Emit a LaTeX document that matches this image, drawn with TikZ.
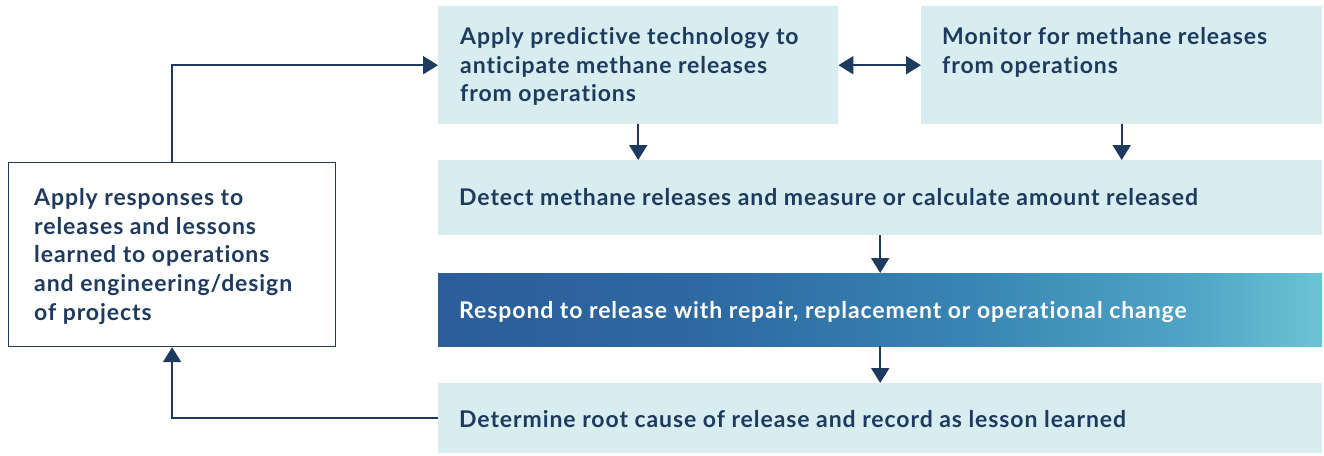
\documentclass[tikz,border=0pt]{standalone}
\usepackage{fontspec}
\usetikzlibrary{arrows.meta}
\newfontfamily\mfont[LetterSpace=4.0,Ligatures=NoCommon]{Lato}
\definecolor{navy}{HTML}{1F3A5F}
\definecolor{boxfill}{HTML}{D7EDF0}
\definecolor{gradA}{HTML}{2B5D99}
\definecolor{gradB}{HTML}{2E69A2}
\definecolor{gradC}{HTML}{3885B3}
\definecolor{gradD}{HTML}{50A4C5}
\definecolor{gradE}{HTML}{6BC4D4}
\pgfdeclarehorizontalshading{respshade}{100bp}{color(0bp)=(gradA); color(25bp)=(gradA); color(40bp)=(gradB); color(55bp)=(gradC); color(67.5bp)=(gradD); color(75bp)=(gradE); color(100bp)=(gradE)}
\begin{document}
\begin{tikzpicture}[x=1pt,y=-1pt,
  font=\mfont\bfseries\fontsize{23}{28.8}\selectfont,
  lbox/.style={fill=boxfill, draw=none, inner sep=0pt, anchor=north west},
  txt/.style={text=navy, inner sep=0pt, align=left},
  conn/.style={draw=navy, line width=2pt, -{Triangle[width=18pt,length=15pt]}},
  conn2/.style={draw=navy, line width=2pt, {Triangle[width=18pt,length=15pt]}-{Triangle[width=18pt,length=15pt]}}]
\useasboundingbox (0,0) rectangle (1324,455);
% boxes
\node[lbox, minimum width=400pt, minimum height=118pt] (pred) at (438,6) {};
\node[lbox, minimum width=401pt, minimum height=118pt] (mon) at (921,6) {};
\node[lbox, minimum width=884pt, minimum height=75pt] (det) at (438,160) {};
\node[inner sep=0pt, anchor=north west, minimum width=884pt, minimum height=73pt, shade, shading=respshade] (resp) at (438,273) {};
\node[lbox, minimum width=884pt, minimum height=70pt] (root) at (438,383) {};
\node[draw=navy, line width=1.2pt, fill=white, inner sep=0pt, anchor=north west, minimum width=327pt, minimum height=184pt] (left) at (8,162) {};
% texts
\node[txt, anchor=north west] (predt) at (460,27) {Apply predictive technology to\\anticipate methane releases\\from operations};
\node[txt, anchor=north west] (mont) at (942,27) {Monitor for methane releases\\from operations};
\node[txt, anchor=base west] (dett) at (459,205) {Detect methane releases and measure or calculate amount released};
\node[txt, anchor=base west, text=white] (respt) at (459,318) {Respond to release with repair, replacement or operational change};
\node[txt, anchor=base west] (roott) at (459,427) {Determine root cause of release and record as lesson learned};
\node[txt, anchor=north west] (leftt) at (34,188) {Apply responses to\\releases and lessons\\learned to operations\\and engineering/design\\of projects};
% connectors
\draw[conn] (left.north) |- (pred.west);
\draw[conn2] (pred.east) -- (mon.west);
\draw[conn] (pred.south) -- (pred.south |- det.north);
\draw[conn] (mon.south) -- (mon.south |- det.north);
\draw[conn] (det.south) -- (resp.north);
\draw[conn] (resp.south) -- (root.north);
\draw[conn] (root.west) -| (left.south);
\end{tikzpicture}
\end{document}
